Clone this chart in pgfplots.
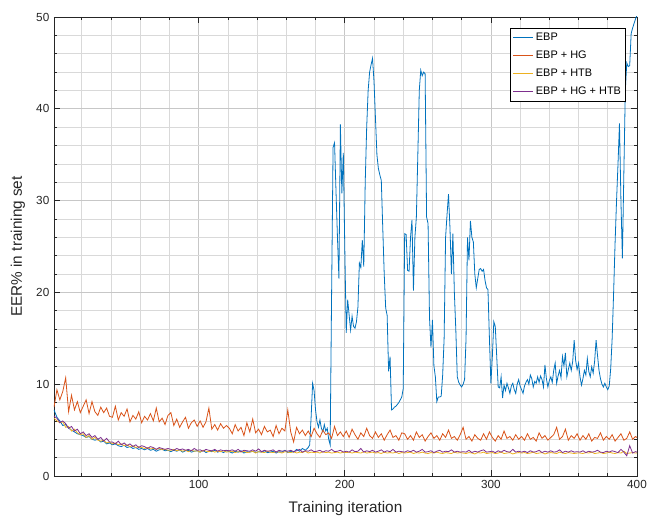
\documentclass[border=0pt]{standalone}
\usepackage{fontspec}
\setmainfont{Liberation Sans}
\usepackage{pgfplots}
\usepackage{pgfplotstable}
\pgfplotsset{compat=1.18}
\definecolor{mblue}{rgb}{0,0.447,0.741}
\definecolor{morange}{rgb}{0.850,0.325,0.098}
\definecolor{myellow}{rgb}{0.929,0.694,0.125}
\definecolor{mpurple}{rgb}{0.494,0.184,0.556}

\pgfplotstableread{
x o y p
1 7.5 6.3 6.5
3 9.4 6.0 6.3
5 8.3 5.8 5.8
7 9.2 5.9 6.0
9 10.7 5.3 5.7
11 7.0 5.4 5.2
13 8.8 4.9 5.4
15 7.2 5.1 4.9
17 8.1 4.7 5.1
19 6.9 4.5 4.6
21 7.6 4.6 4.8
23 8.3 4.2 4.4
25 6.8 4.4 4.6
27 8.1 4.0 4.2
29 7.0 4.2 4.4
31 6.6 3.9 4.0
33 7.5 3.8 4.2
35 6.9 3.9 3.8
37 7.4 3.6 4.1
39 6.5 3.7 3.7
41 6.4 3.5 3.7
43 7.6 3.6 3.5
45 6.1 3.4 3.8
47 6.9 3.5 3.4
49 6.5 3.3 3.6
51 7.3 3.4 3.3
53 5.9 3.2 3.5
55 6.6 3.3 3.2
57 6.2 3.1 3.4
59 7.0 3.2 3.1
61 5.8 3.1 3.3
63 6.5 3.0 3.2
65 6.1 3.1 3.0
67 6.8 2.95 3.2
69 6.0 3.0 3.1
71 7.4 2.9 2.9
73 5.9 3.0 3.1
75 6.3 2.85 3.0
77 5.6 2.9 2.9
79 6.6 2.8 3.0
81 6.9 2.8 2.9
83 5.5 2.9 2.8
85 6.2 2.75 3.0
87 5.3 2.85 2.85
89 5.9 2.7 2.95
91 6.4 2.8 2.8
93 5.2 2.65 2.9
95 5.8 2.8 2.75
97 6.1 2.7 3.0
99 5.4 2.75 2.8
101 6.0 2.6 2.85
103 5.3 2.8 2.7
105 5.9 2.7 2.9
107 7.4 2.65 2.8
109 5.1 2.75 2.75
111 5.6 2.6 2.9
113 5.0 2.7 2.7
115 5.7 2.65 2.85
117 5.2 2.75 2.75
119 5.5 2.6 2.8
121 5.2 2.65 2.75
123 4.6 2.7 2.85
125 5.6 2.55 2.7
127 4.9 2.65 2.9
129 5.3 2.6 2.65
131 4.4 2.7 2.8
133 5.8 2.55 2.75
135 4.8 2.6 2.7
137 6.2 2.7 2.85
139 4.7 2.5 2.7
141 5.1 2.65 2.95
143 4.5 2.6 2.65
145 5.4 2.55 2.8
147 4.8 2.7 2.7
149 5.0 2.6 2.75
151 4.3 2.55 2.85
153 5.5 2.65 2.6
155 4.6 2.6 2.8
157 5.2 2.5 2.7
159 4.9 2.65 2.75
161 7.2 2.6 2.7
163 4.8 2.55 2.8
165 3.7 2.65 2.65
167 5.3 2.5 2.75
169 4.6 2.6 2.9
171 5.0 2.55 2.6
173 4.4 2.7 2.75
175 4.9 2.5 2.7
177 4.3 2.6 2.85
179 5.2 2.55 2.65
181 4.6 2.6 2.7
183 4.2 2.5 2.8
185 5.0 2.65 2.6
187 4.5 2.55 2.75
189 4.7 2.6 2.7
191 4.1 2.5 2.9
193 5.4 2.55 2.65
195 4.4 2.6 2.7
197 4.8 2.5 2.8
199 4.3 2.6 2.6
201 4.9 2.55 2.7
203 4.2 2.6 2.6
205 5.1 2.5 2.85
207 4.5 2.6 2.65
209 4.0 2.55 2.7
211 4.7 2.5 3.0
213 4.3 2.65 2.6
215 5.2 2.5 2.75
217 4.4 2.55 2.65
219 4.1 2.6 2.8
221 4.8 2.5 2.6
223 4.2 2.55 2.7
225 4.6 2.45 2.85
227 3.9 2.6 2.6
229 4.5 2.5 2.75
231 5.0 2.55 2.65
233 4.2 2.5 2.9
235 4.4 2.6 2.6
237 3.9 2.45 2.7
239 4.7 2.55 2.65
241 4.6 2.5 2.6
243 4.0 2.55 2.75
245 4.4 2.6 2.65
247 3.9 2.45 2.8
249 4.8 2.55 2.6
251 4.2 2.5 2.7
253 4.5 2.6 2.9
255 3.8 2.5 2.6
257 4.3 2.45 2.65
259 4.7 2.55 2.75
261 4.1 2.5 2.55
263 4.4 2.6 2.7
265 3.9 2.5 2.8
267 4.6 2.45 2.6
269 4.2 2.55 2.7
271 5.0 2.5 2.65
273 4.1 2.45 2.85
275 4.3 2.6 2.6
277 3.9 2.5 2.7
279 4.5 2.55 2.6
281 5.3 2.5 2.65
283 4.0 2.45 2.6
285 4.3 2.55 2.8
287 3.8 2.5 2.55
289 4.5 2.4 2.7
291 4.1 2.55 2.6
293 3.9 2.5 2.75
295 4.6 2.6 2.85
297 4.0 2.45 2.6
299 4.8 2.5 2.65
301 4.2 2.55 2.7
303 3.8 2.45 2.55
305 4.4 2.5 2.75
307 4.0 2.6 2.6
309 4.9 2.45 2.8
311 4.1 2.5 2.65
313 4.3 2.55 2.6
315 3.9 2.4 2.9
317 4.5 2.5 2.6
319 4.0 2.55 2.7
321 4.3 2.5 2.6
323 3.9 2.55 2.7
325 4.6 2.45 2.55
327 4.0 2.5 2.75
329 4.2 2.6 2.6
331 3.8 2.45 2.65
333 4.7 2.5 2.8
335 4.1 2.55 2.55
337 4.4 2.4 2.7
339 3.9 2.5 2.6
341 4.2 2.55 2.75
343 4.5 2.5 2.6
345 5.3 2.45 2.65
347 4.0 2.6 2.85
349 4.3 2.5 2.55
351 5.1 2.45 2.7
353 3.9 2.55 2.6
355 4.4 2.5 2.75
357 4.1 2.45 2.6
359 4.6 2.5 2.65
361 3.9 2.5 2.6
363 4.4 2.45 2.75
365 4.0 2.55 2.55
367 4.6 2.5 2.7
369 3.8 2.6 2.6
371 4.2 2.45 2.65
373 4.1 2.5 2.8
375 4.7 2.55 2.6
377 3.9 2.45 2.55
379 4.3 2.5 2.7
381 4.0 2.6 2.6
383 4.5 2.5 2.75
385 3.8 2.45 2.65
387 4.2 2.55 2.55
389 4.6 2.5 2.9
391 3.9 2.7 2.6
393 4.1 2.45 2.2
395 4.8 2.5 3.3
397 4.0 2.55 2.5
399 4.3 2.5 2.65
400 4.2 2.5 2.6
}\others

\pgfplotstableread{
x y
1 7.2
3 6.4
5 6.0
7 5.5
9 5.6
11 5.2
13 5.0
15 4.8
17 4.6
19 4.5
21 4.4
23 4.2
25 4.3
27 4.0
29 3.9
31 4.0
33 3.7
35 3.8
37 3.5
39 3.6
41 3.4
43 3.5
45 3.3
47 3.2
49 3.35
51 3.1
53 3.2
55 3.0
57 3.1
59 2.9
61 3.0
63 2.85
65 3.0
67 2.8
69 2.9
71 2.7
73 2.85
75 2.9
77 2.75
79 2.8
81 2.65
83 2.8
85 2.7
87 2.85
89 2.6
91 2.75
93 2.8
95 2.6
97 2.7
99 2.75
101 2.6
103 2.8
105 2.55
107 2.7
109 2.65
111 2.8
113 2.6
115 2.7
117 2.55
119 2.75
121 2.65
123 2.5
125 2.7
127 2.6
129 2.75
131 2.5
133 2.65
135 2.6
137 2.7
139 2.55
141 2.65
143 2.6
145 2.75
147 2.55
149 2.6
151 2.7
153 2.5
155 2.65
157 2.6
159 2.8
161 2.55
163 2.7
165 2.6
167 2.9
169 2.7
171 3.0
173 2.8
175 3.1
176 3.4
177 6.5
178 10.1
179 9.3
180 7.2
181 5.9
182 5.3
183 6.1
184 5.2
185 4.8
186 5.6
187 4.9
188 5.2
189 4.0
190 3.4
191 20
192 35.8
193 36.3
194 31
195 26
196 21.5
197 38.3
198 30.8
199 35.2
200 25
201 15.6
202 19.2
203 17.5
204 15.9
205 17.4
206 16.3
207 16.1
208 16.8
209 18.4
210 23.2
211 22.7
212 25.7
213 22.8
214 32
215 38
216 42
217 44
218 44.8
219 45.5
220 43
221 39
222 35
223 33.5
224 32.8
225 32.2
226 27
227 22
228 18.3
229 17.5
230 11.4
231 13.0
232 7.2
233 7.3
234 7.5
235 7.6
236 7.8
237 8.0
238 8.3
239 8.6
240 9.5
241 26.4
242 26.3
243 22.4
244 22.3
245 26
246 27.9
247 20.2
248 26.0
249 28.2
250 35
251 42
252 44.2
253 43.6
254 44.0
255 43.8
256 28.2
257 27.5
258 17.2
259 14.0
260 17.0
261 12.0
262 10.8
263 8.1
264 8.6
265 8.6
266 8.7
267 11
268 15
269 26
270 28.5
271 30.7
272 27.0
273 22.0
274 26.4
275 20
276 15.9
277 10.8
278 10.2
279 9.9
280 9.7
281 10.0
282 10.5
283 15
284 26
285 23.5
286 27.8
287 26
288 25.5
289 22
290 20.5
291 21.5
292 22.5
293 22.6
294 22.3
295 22.5
296 21.3
297 20.5
298 20.3
299 15
300 10.1
301 13
302 16.8
303 16.3
304 13
305 9.7
306 9.6
307 10.8
308 8.5
309 9.9
310 9.3
311 10.1
312 9.6
313 9.0
314 9.8
315 10.1
316 9.4
317 9.0
318 10.0
319 10.5
320 9.8
321 9.4
322 9.0
323 9.8
324 10.2
325 10.5
326 10.0
327 11.0
328 10.6
329 9.7
330 10.3
331 10.1
332 10.8
333 10.2
334 10.9
335 10.5
336 9.7
337 12.1
338 10.6
339 9.7
340 10.4
341 10.8
342 10.2
343 11.5
344 12.3
345 10.1
346 10.9
347 11.5
348 10.7
349 13.0
350 12.0
351 13.4
352 10.8
353 11.6
354 12.3
355 11.5
356 12.5
357 14.8
358 12.6
359 11.6
360 12.3
361 10.8
362 9.9
363 10.6
364 11.5
365 11.0
366 12.8
367 11.4
368 10.8
369 11.9
370 11.2
371 12.5
372 14.8
373 13.1
374 11.5
375 10.6
376 10.0
377 9.7
378 10.1
379 9.7
380 9.4
381 9.8
382 11.7
383 15
384 20
385 25.4
386 30
387 34
388 38.4
389 30
390 23.7
391 33
392 42
393 45
394 44.6
395 44.7
396 48.2
397 48.8
398 49.3
399 49.8
400 50.2
}\ebp

\begin{document}
\begin{tikzpicture}
\begin{axis}[
  scale only axis, width=437.25pt, height=344.25pt,
  xmin=1, xmax=400, ymin=0, ymax=50,
  xtick={100,200,300,400}, ytick={0,10,20,30,40,50},
  minor xtick={20,40,...,380}, minor ytick={2,4,...,48},
  grid=both,
  major grid style={black!22, line width=0.5pt},
  minor grid style={black!15, line width=0.5pt},
  tick align=inside, major tick length=4.5pt, minor tick length=2.5pt,
  axis line style={black!85, line width=0.5pt},
  every tick/.style={black!85, line width=0.5pt},
  tick label style={font=\fontsize{8.8}{10}\selectfont, text=black!85},
  /pgf/number format/assume math mode=true,
  xlabel={Training iteration}, ylabel={EER\% in training set},
  label style={font=\fontsize{11.5}{13}\selectfont, text=black!85},
  xlabel style={at={(axis description cs:0.5,-0.0719)}, anchor=center},
  ylabel style={at={(axis description cs:-0.0618,0.5)}, anchor=center, rotate=0},
  legend style={at={(rel axis cs:1,1)}, anchor=north east, xshift=-8.25pt, yshift=-8.25pt,
    line width=0.5pt, fill=white,
    font=\fontsize{8.2}{9.5}\selectfont, inner xsep=2pt, inner ysep=1pt,
    row sep=1.5pt, nodes={inner sep=1.5pt, text height=7pt, text depth=2pt},
    cells={anchor=west}},
  legend image code/.code={\draw[#1, line width=0.75pt] (0pt,0pt) -- (15pt,0pt);},
  legend cell align=left,
]
\addplot[draw=mblue, line width=0.6pt] table[x=x, y=y] {\ebp};
\addlegendentry{EBP}
\addplot[draw=morange, line width=0.6pt] table[x=x, y=o] {\others};
\addlegendentry{EBP + HG}
\addplot[draw=myellow, line width=0.6pt] table[x=x, y=y] {\others};
\addlegendentry{EBP + HTB}
\addplot[draw=mpurple, line width=0.6pt] table[x=x, y=p] {\others};
\addlegendentry{EBP + HG + HTB}
\end{axis}
\pgfresetboundingbox
\path[use as bounding box] ([shift={(-40.5pt,-30.75pt)}]current axis.south west) rectangle ([shift={(7.5pt,12.75pt)}]current axis.north east);
\end{tikzpicture}
\end{document}
